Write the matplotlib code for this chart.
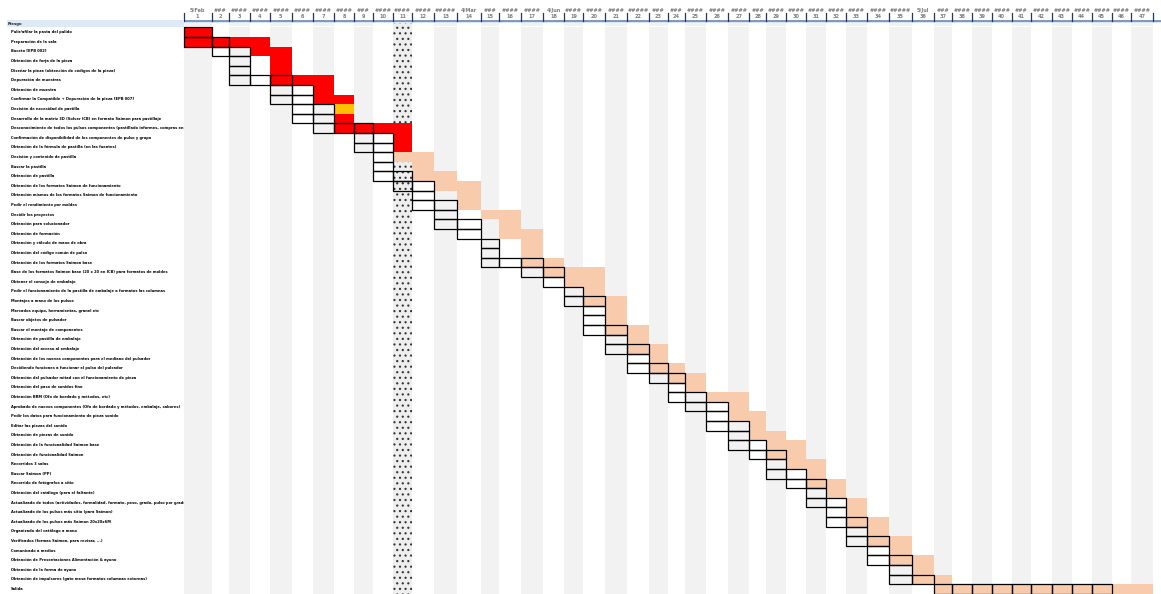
import numpy as np
import matplotlib
matplotlib.use("Agg")
import matplotlib.pyplot as plt
from matplotlib.patches import Rectangle

# ---- project data -------------------------------------------------------
section = "Riesgo"

tasks = [
    "Pulir/afilar la pasta del pulido",
    "Preparación de la sala",
    "Boceto [EPB 002]",
    "Obtención de forja de la pieza",
    "Diseñar la pieza (obtención de códigos de la pieza)",
    "Depuración de muestras",
    "Obtención de muestra",
    "Confirmar la Compatible + Depuración de la pieza [EPB 007]",
    "Decisión de necesidad de pastilla",
    "Desarrollo de la matriz 3D (Solver ICB) en formato Saimon para pastillaje",
    "Desconocimiento de todos los pulsos componentes (pastillado informes, compras en pastillado en general)",
    "Confirmación de disponibilidad de los componentes de pulso y grupo",
    "Obtención de la fórmula de pastilla (en las fuentes)",
    "Decisión y contenido de pastilla",
    "Buscar la pastilla",
    "Obtención de pastilla",
    "Obtención de los formatos Saimon de funcionamiento",
    "Obtención mismos de los formatos Saimon de funcionamiento",
    "Pedir el rendimiento por moldes",
    "Decidir los proyectos",
    "Obtención para solucionador",
    "Obtención de formación",
    "Obtención y cálculo de mano de obra",
    "Obtención del código común de pulso",
    "Obtención de los formatos Saimon base",
    "Base de los formatos Saimon base (20 x 20 en ICB) para formatos de moldes",
    "Obtener el consejo de embalaje",
    "Pedir el funcionamiento de la pastilla de embalaje a formatos las columnas",
    "Montajes a mano de los pulsos",
    "Mercados equipo, herramientas, granel etc",
    "Buscar objetos de pulsador",
    "Buscar el montaje de componentes",
    "Obtención de pastilla de embalaje",
    "Obtención del acceso al embalaje",
    "Obtención de los nuevos componentes para el mediano del pulsador",
    "Decidiendo funciones a funcionar el pulso del pulsador",
    "Obtención del pulsador mitad con el funcionamiento de pieza",
    "Obtención del paso de sonidos fino",
    "Obtención BRM (Ofo de bordado y métodos, etc)",
    "Aprobado de nuevos componentes (Ofo de bordado y métodos, embalaje, sabores)",
    "Pedir los datos para funcionamiento de pieza sonido",
    "Editar las piezas del sonido",
    "Obtención de piezas de sonido",
    "Obtención de la funcionalidad Saimon base",
    "Obtención de funcionalidad Saimon",
    "Recorridos 3 salas",
    "Buscar Saimon (PP)",
    "Recorrido de fotógrafos a sitio",
    "Obtención del catálogo (para el faltante)",
    "Actualizado de todos (actividades, formalidad, formato, peso, grado, pulso por grado) más todos",
    "Actualizado de los pulsos más sitio (para Saimon)",
    "Actualizado de los pulsos más Saimon 20x20x6M",
    "Organizado del catálogo a mano",
    "Verificados (formas Saimon, para revisar, ...)",
    "Comunicado a medios",
    "Obtención de Presentaciones Alimentación & ayuno",
    "Obtención de la forma de ayuno",
    "Obtención de impulsores (gato mesa formatos columnas externas)",
    "Salida",
]

# planned weeks (outlined cells)
plan_start = [1, 1, 2, 3, 3, 3, 5, 5, 6, 6, 7, 9, 9, 10, 10, 10, 11, 12, 12, 13,
              13, 14, 15, 15, 15, 17, 18, 19, 19, 20, 20, 20, 21, 21, 22, 22, 23, 24, 24, 25,
              26, 26, 27, 27, 28, 29, 29, 30, 31, 31, 32, 32, 33, 33, 34, 34, 35, 35, 37]
plan_len = [1, 2, 2, 1, 1, 3, 2, 2, 2, 2, 3, 2, 2, 1, 1, 2, 2, 1, 2, 1,
            2, 1, 1, 1, 3, 2, 1, 1, 2, 1, 1, 2, 1, 2, 1, 2, 2, 1, 2, 2,
            1, 2, 1, 2, 2, 1, 2, 2, 1, 2, 1, 2, 1, 2, 1, 2, 1, 2, 9]

# actual / forecast weeks (filled cells)
real_start = [1, 1, 4, 5, 5, 5, 7, 7, 8, 8, 8, 11, 11, 11, 12, 12, 13, 14, 14, 15,
              16, 16, 17, 17, 17, 18, 19, 20, 20, 21, 21, 21, 22, 22, 23, 23, 24, 25, 26, 27,
              27, 28, 28, 29, 29, 30, 31, 31, 32, 33, 33, 33, 34, 34, 35, 35, 36, 36, 37]
real_len = [1, 4, 2, 1, 1, 3, 1, 2, 1, 1, 4, 1, 1, 2, 1, 2, 2, 1, 1, 2,
            1, 2, 1, 1, 2, 3, 2, 1, 2, 1, 1, 2, 1, 2, 1, 2, 2, 1, 2, 1,
            2, 1, 2, 2, 2, 2, 1, 2, 1, 1, 1, 2, 1, 2, 1, 2, 1, 2, 11]
status = ["hecho"] * 8 + ["retraso"] + ["hecho"] * 4 + ["pendiente"] * 46

week_labels = ["5/Feb", "###", "####", "####", "####", "####", "####", "####", "###", "####",
               "####", "####", "#####", "4/Mar", "###", "####", "####", "4/Jun", "####", "####",
               "####", "#####", "###", "###", "####", "####", "####", "###", "####", "####",
               "####", "####", "####", "####", "#####", "5/Jul", "###", "####", "####", "####",
               "###", "####", "####", "####", "####", "####", "####"]
week_numbers = list(range(1, len(week_labels) + 1))
today_week = 11

# ---- layout -------------------------------------------------------------
W, H = 1161, 594
grid_x0 = 183.5
col_w = [28.2, 17.6, 20.7, 20, 21.7, 21.6, 20.7, 20, 18.7, 20, 19.6, 21.7, 23.3, 23.4,
         18.3, 21.7, 22, 21.6, 18.4, 22.3, 21.7, 22.6, 18.4, 17.3, 21, 22.3, 21, 16.7,
         20, 20, 20, 20, 21.3, 22, 22.4, 22.3, 17.7, 20, 20, 20, 19, 21, 20, 20, 20, 19,
         22.6, 22]
edges = grid_x0 + np.concatenate([[0], np.cumsum(col_w)])
row_top0, row_h = 27.4, 9.6

fill_colors = {"hecho": "#ff0000", "retraso": "#ffc000", "pendiente": "#f8cbad"}
head_grey = "#7f7f7f"
txt_font = "DejaVu Sans"
plt.rcParams["hatch.linewidth"] = 0.8

fig = plt.figure(figsize=(W / 100, H / 100), dpi=100)
ax = fig.add_axes([0, 0, 1, 1])
ax.set_xlim(0, W)
ax.set_ylim(H, 0)
ax.axis("off")

# alternating week shading
for i in range(len(col_w)):
    if i % 2 == 0:
        ax.add_patch(Rectangle((edges[i], 21), col_w[i], H - 21,
                               facecolor="#f2f2f2", lw=0, zorder=1))
ax.add_patch(Rectangle((grid_x0, 26.4), W - grid_x0, 1.0, facecolor="white", lw=0, zorder=1.5))

# current week column
t = today_week - 1
ax.add_patch(Rectangle((edges[t], 21), col_w[t], H - 21, facecolor="#eeeeee",
                       edgecolor="#333333", hatch="...", lw=0, zorder=2))

# header rows
ax.add_patch(Rectangle((grid_x0, 20.6), W - grid_x0, 2.2, facecolor="#dce6f1", lw=0, zorder=3))
ax.plot([grid_x0, W], [20.5, 20.5], color="#5f7fb3", lw=1.1, zorder=4)
for i, (lab, num) in enumerate(zip(week_labels, week_numbers)):
    xc = edges[i] + col_w[i] / 2
    ax.text(xc, 10.3, lab, ha="center", va="center", fontsize=3.6,
            weight="bold", color=head_grey, family=txt_font, zorder=5)
    ax.text(xc, 16.8, str(num), ha="center", va="center", fontsize=3.6,
            weight="bold", color=head_grey, family=txt_font, zorder=5)
for x in edges:
    ax.plot([x, x], [12.6, 20.5], color="#1f3864", lw=0.9, zorder=5)

# task bars: filled cells first, then planned cells as outlines
for k in range(len(tasks)):
    top = row_top0 + k * row_h
    s, n = real_start[k] - 1, real_len[k]
    ax.add_patch(Rectangle((edges[s], top), edges[s + n] - edges[s], row_h,
                           facecolor=fill_colors[status[k]], lw=0, zorder=6))
for k in range(len(tasks)):
    top = row_top0 + k * row_h
    for c in range(plan_start[k] - 1, plan_start[k] - 1 + plan_len[k]):
        ax.add_patch(Rectangle((edges[c], top), col_w[c], row_h, fill=False,
                               edgecolor="black", lw=0.9, zorder=7))

# task label column
lab_ax = fig.add_axes([0, 0, grid_x0 / W, 1])
lab_ax.set_xlim(0, grid_x0)
lab_ax.set_ylim(H, 0)
lab_ax.axis("off")
lab_ax.add_patch(Rectangle((7, 20.4), grid_x0 - 7, 6.8, facecolor="#dde9f5", lw=0))
lab_ax.text(8, 23.8, section, va="center", fontsize=2.8, weight="bold",
            family=txt_font, color="#222222")
for k, name in enumerate(tasks):
    yc = row_top0 + k * row_h + row_h / 2
    lab_ax.text(11, yc, name, va="center", fontsize=2.6, weight="bold",
                family=txt_font, color="black", clip_on=True)

fig.savefig("out.png", dpi=100)
